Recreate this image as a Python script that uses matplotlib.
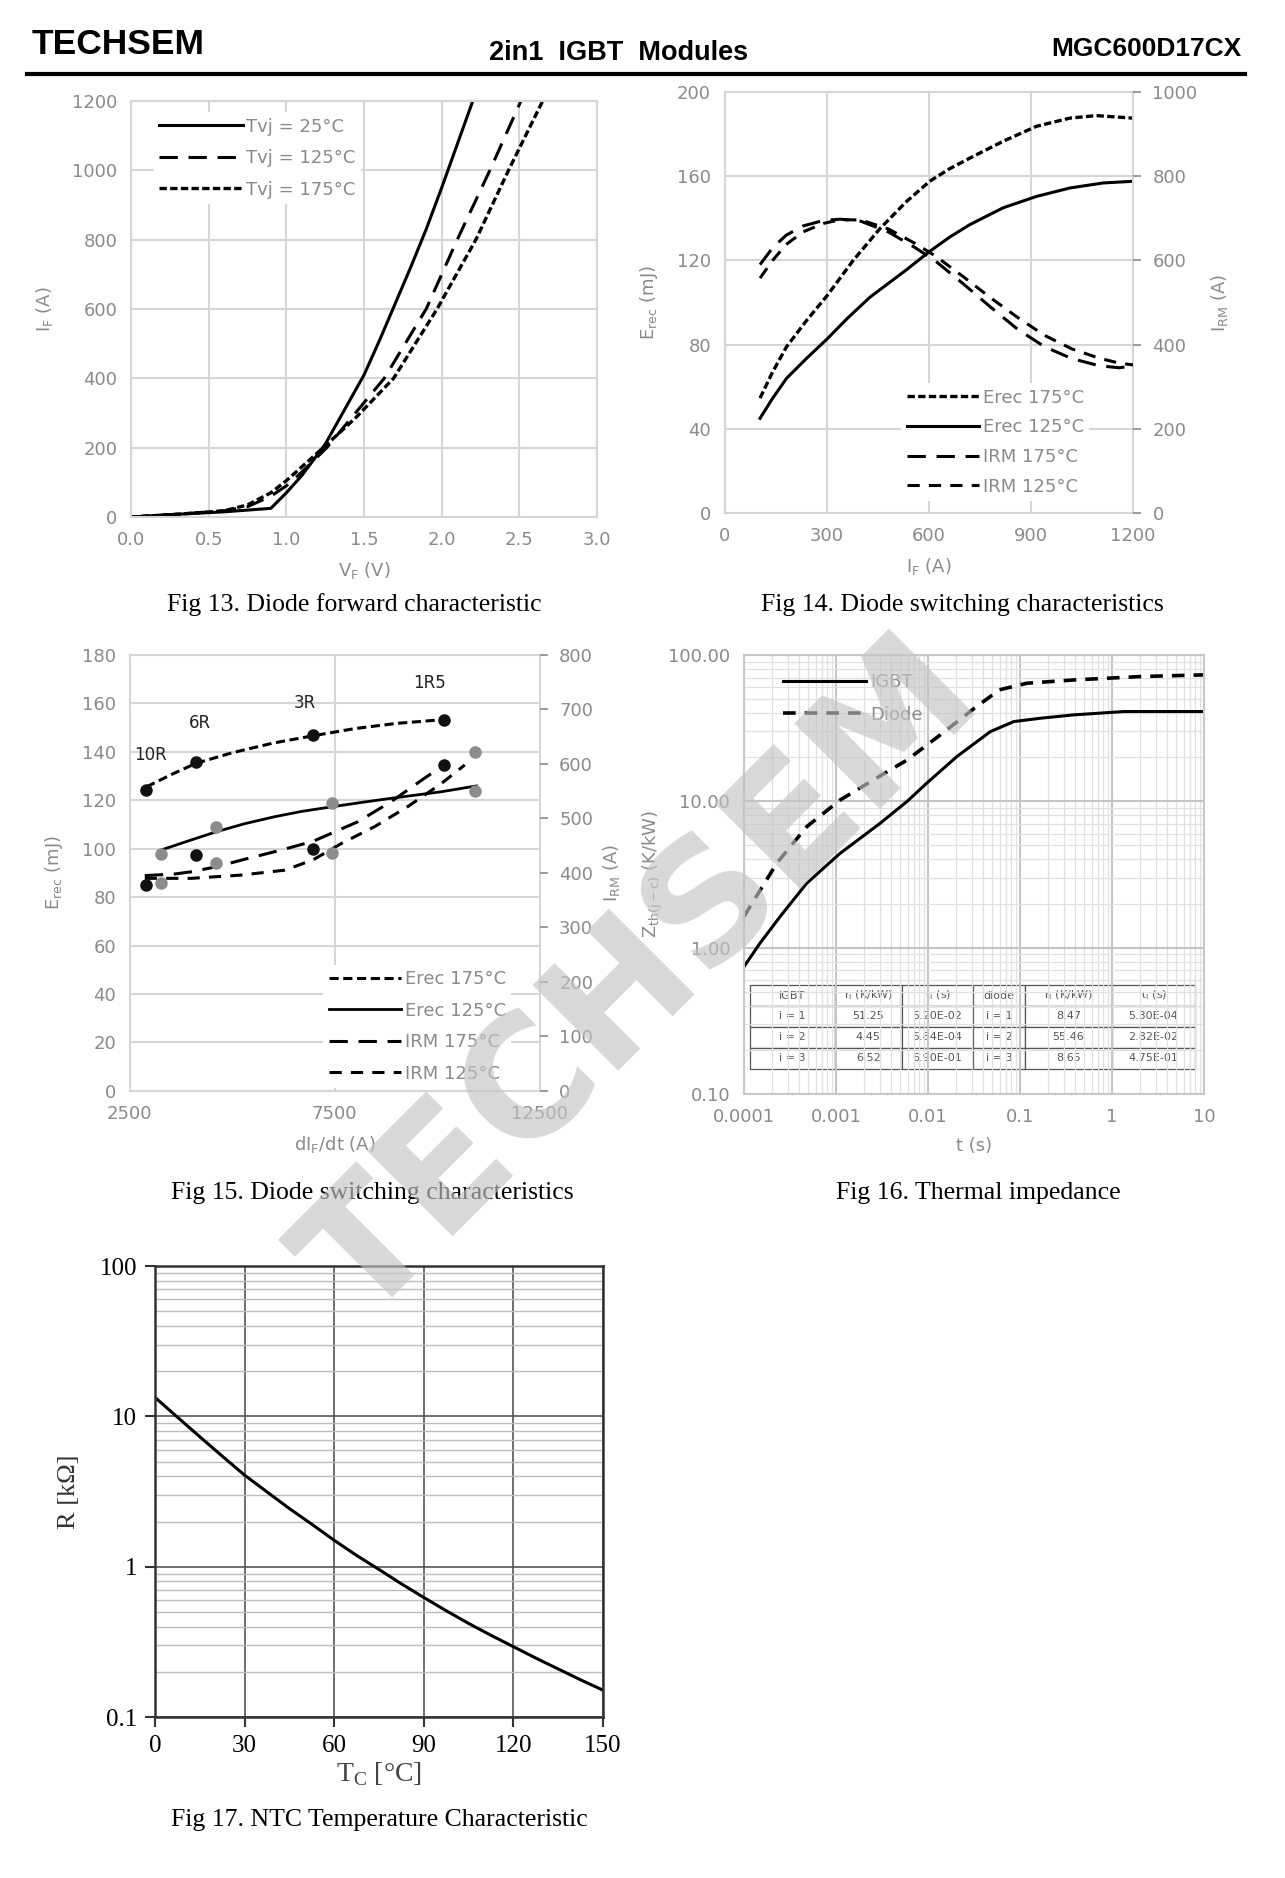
import matplotlib
matplotlib.use("Agg")
import matplotlib.pyplot as plt
from matplotlib.ticker import LogLocator, NullFormatter, FixedLocator, FixedFormatter

# Fig 13 - diode forward characteristic
vf_25 = [0.0, 0.3, 0.6, 0.9, 1.0, 1.1, 1.25, 1.4, 1.5, 1.6, 1.7, 1.8, 1.9, 2.0, 2.1, 2.2]
if_25 = [0, 8, 15, 25, 70, 120, 210, 330, 410, 510, 615, 720, 830, 950, 1075, 1200]
vf_125 = [0.0, 0.3, 0.6, 0.75, 0.9, 1.0, 1.1, 1.26, 1.4, 1.63, 1.75, 1.9, 2.1, 2.31, 2.51]
if_125 = [0, 8, 18, 30, 60, 90, 130, 200, 276, 400, 489, 600, 800, 1000, 1200]
vf_175 = [0.0, 0.3, 0.6, 0.75, 0.9, 1.0, 1.1, 1.25, 1.45, 1.69, 1.97, 2.22, 2.43, 2.65]
if_175 = [0, 8, 18, 35, 70, 105, 145, 205, 288, 400, 600, 800, 1000, 1200]

# Fig 14 - switching vs current
ic_erec = [103, 140, 181, 240, 299, 377, 455, 534, 602, 660, 720, 818, 916, 1014, 1092, 1200]
erec175_ic = [54.6, 67, 79, 91.5, 103, 120, 135, 148, 157.6, 163.5, 168.6, 176.6, 183.7, 187.6, 188.8, 187.6]
ic_erec125 = [103, 140, 181, 240, 299, 360, 426, 534, 602, 660, 720, 818, 916, 1014, 1112, 1200]
erec125_ic = [45, 54.5, 64, 73.5, 82.5, 92.5, 102.5, 115.6, 124.3, 131, 137, 145, 150.4, 154.4, 156.8, 157.6]
ic_irm = [103, 140, 180, 230, 290, 340, 400, 480, 560, 620, 700, 780, 860, 940, 1020, 1100, 1160, 1200]
irm175_ic = [590, 630, 660, 682, 695, 698, 693, 668, 630, 598, 545, 490, 437, 395, 367, 350, 345, 350]
irm125_ic = [558, 600, 638, 668, 688, 697, 696, 675, 640, 610, 562, 512, 465, 422, 390, 368, 356, 352]

# Fig 15 - switching vs dIF/dt
di_pts175 = [2907, 4110, 6972, 10167]
erec175_pts = [124.2, 135.9, 146.9, 153.1]
irm175_pts = [378, 432, 444, 598]
di_pts125 = [3256, 4614, 7435, 10915]
erec125_pts = [97.7, 109, 118.7, 123.9]
irm125_pts = [381, 418, 436, 621]
di_erec175 = [2907, 3500, 4110, 5000, 6000, 6972, 8000, 9000, 10167]
erec175_fit = [125.5, 130.5, 135.2, 139.6, 143.6, 146.6, 149.6, 151.7, 153.3]
di_erec125 = [3256, 4000, 4614, 5300, 6037, 6700, 7435, 8200, 8882, 10102, 10955]
erec125_fit = [99.4, 103.6, 107, 110.3, 113.2, 115.4, 117.3, 119.2, 120.8, 123.5, 125.9]
di_irm175 = [2866, 3598, 4000, 4655, 5300, 6200, 6972, 8069, 8882, 9695, 10167]
irm175_fit = [395, 398, 402, 412, 425, 442, 458, 494, 531, 574, 598]
di_irm125 = [2866, 4000, 5220, 6280, 6972, 7663, 8476, 9289, 10102, 10671]
irm125_fit = [390, 390, 396, 405, 424, 454, 485, 522, 564, 598]
rg_labels = ["10R", "6R", "3R", "1R5"]
rg_x = [3000, 4207, 6768, 9817]
rg_y = [138.7, 151.7, 160.2, 168.2]

# Fig 16 - thermal impedance
t_igbt = [1e-4, 1.49e-4, 2.47e-4, 4.8e-4, 1.11e-3, 3.02e-3, 5.9e-3, 9.7e-3, 0.0206, 0.0476, 0.0855, 0.1667, 0.385, 1.35, 10]
z_igbt = [0.741, 1.07, 1.63, 2.75, 4.41, 7.07, 9.95, 13.3, 20.2, 29.9, 35.0, 36.9, 38.9, 41.0, 41.0]
t_diode = [1e-4, 2.27e-4, 4.8e-4, 1.11e-3, 2.56e-3, 5.9e-3, 0.0136, 0.0319, 0.0597, 0.119, 0.385, 2.04, 10]
z_diode = [1.63, 3.77, 6.7, 10.2, 14.0, 19.1, 28.4, 43.2, 57.7, 64.0, 67.4, 71.1, 73.0]
table_header = ["IGBT", "r$_\\mathregular{i}$ (K/kW)", "τ$_\\mathregular{i}$ (s)", "diode",
                "r$_\\mathregular{i}$ (K/kW)", "τ$_\\mathregular{i}$ (s)"]
table_rows = [
    ["i = 1", "51.25", "5.20E-02", "i = 1", "8.47", "5.30E-04"],
    ["i = 2", "4.45", "5.84E-04", "i = 2", "55.46", "2.82E-02"],
    ["i = 3", "6.52", "6.90E-01", "i = 3", "8.65", "4.75E-01"],
]

# Fig 17 - NTC
tc = [0, 7.5, 15, 22.5, 30, 37.5, 45, 52.5, 60, 67.5, 75, 82.5, 90, 97.5, 105, 112.5, 120, 127.5, 135, 142.5, 150]
r_ntc = [13.4, 9.9, 7.33, 5.45, 4.07, 3.15, 2.44, 1.92, 1.50, 1.19, 0.96, 0.77, 0.625, 0.51, 0.42,
         0.35, 0.294, 0.247, 0.209, 0.177, 0.151]

plt.rcParams["font.family"] = ["DejaVu Sans"]
plt.rcParams["mathtext.fontset"] = "dejavusans"

TXT = "#8a8a8a"
GRID = "#d6d6d6"
SERIF = ["Liberation Serif", "DejaVu Serif"]
NARROW = ["Liberation Sans Narrow", "Liberation Sans", "DejaVu Sans"]
TS = 13

SHORT = (0, (2.2, 1.0))
LONG = (0, (6, 3.5))
MED = (0, (4, 3))

fig = plt.figure(figsize=(12.85, 18.78), dpi=100)


def sheet_axes(ax):
    for s in ax.spines.values():
        s.set_color(GRID)
        s.set_linewidth(1.5)
    ax.tick_params(colors=TXT, labelsize=TS, length=0, pad=10)
    ax.grid(True, color=GRID, lw=1.5)
    ax.set_axisbelow(True)


def sheet_legend(ax, handles, labels, loc_xy, spacing, hl=4.5):
    return ax.legend(handles, labels, loc="upper left", bbox_to_anchor=loc_xy, fontsize=TS,
                     labelcolor=TXT, handlelength=hl, handletextpad=0.2,
                     labelspacing=spacing, frameon=True, facecolor="white",
                     edgecolor="none", framealpha=1, borderpad=0.3)


# header
fig.text(0.025, 0.9765, "TECHSEM", family=NARROW, weight="bold", fontsize=25.5, va="center")
fig.text(0.481, 0.972, "2in1  IGBT  Modules", family=NARROW, weight="bold", fontsize=19.5, ha="center", va="center")
fig.text(0.966, 0.974, "MGC600D17CX", family=NARROW, weight="bold", fontsize=19, ha="right", va="center")
fig.add_artist(plt.Line2D([0.021, 0.969], [0.9605, 0.9605], color="black", lw=3))

# ---- Fig 13
ax1 = fig.add_axes([0.102, 0.7247, 0.3626, 0.2215])
sheet_axes(ax1)
ax1.plot(vf_25, if_25, color="black", lw=2.2, label="Tvj = 25°C")
ax1.plot(vf_125, if_125, color="black", lw=2.2, ls=LONG, label="Tvj = 125°C")
ax1.plot(vf_175, if_175, color="black", lw=2.4, ls=SHORT, label="Tvj = 175°C")
ax1.set_xlim(0, 3)
ax1.set_ylim(0, 1200)
ax1.set_xticks([0, 0.5, 1.0, 1.5, 2.0, 2.5, 3.0])
ax1.set_xticklabels(["0.0", "0.5", "1.0", "1.5", "2.0", "2.5", "3.0"])
ax1.set_yticks(range(0, 1201, 200))
ax1.set_xlabel("V$_\\mathregular{F}$ (V)", color=TXT, fontsize=TS, labelpad=8)
ax1.set_ylabel("I$_\\mathregular{F}$ (A)", color=TXT, fontsize=TS, labelpad=12)
h, lab = ax1.get_legend_handles_labels()
sheet_legend(ax1, h, lab, (0.03, 0.995), 0.75, hl=4.6)
fig.text(0.276, 0.678, "Fig 13. Diode forward characteristic", family=SERIF, fontsize=18.5, ha="center", va="center")

# ---- Fig 14
ax2 = fig.add_axes([0.5642, 0.7268, 0.3175, 0.2242])
sheet_axes(ax2)
ax2r = ax2.twinx()
for s in ax2r.spines.values():
    s.set_visible(False)
ax2r.tick_params(colors=TXT, labelsize=TS, length=6, width=1.2, pad=8, right=True)
ax2.plot(ic_erec, erec175_ic, color="black", lw=2.4, ls=SHORT, label="Erec 175°C")
ax2.plot(ic_erec125, erec125_ic, color="black", lw=2.2, label="Erec 125°C")
l3, = ax2r.plot(ic_irm, irm175_ic, color="black", lw=2.2, ls=LONG, label="IRM 175°C")
l4, = ax2r.plot(ic_irm, irm125_ic, color="black", lw=2.2, ls=MED, label="IRM 125°C")
ax2.set_xlim(0, 1200)
ax2.set_ylim(0, 200)
ax2r.set_ylim(0, 1000)
ax2.set_xticks(range(0, 1201, 300))
ax2.set_yticks(range(0, 201, 40))
ax2r.set_yticks(range(0, 1001, 200))
ax2.set_xlabel("I$_\\mathregular{F}$ (A)", color=TXT, fontsize=TS, labelpad=8)
ax2.set_ylabel("E$_\\mathregular{rec}$ (mJ)", color=TXT, fontsize=TS, labelpad=12)
ax2r.set_ylabel("I$_\\mathregular{RM}$ (A)", color=TXT, fontsize=TS, labelpad=8)
h, lab = ax2.get_legend_handles_labels()
sheet_legend(ax2r, h + [l3, l4], lab + ["IRM 175°C", "IRM 125°C"], (0.41, 0.33), 0.65, hl=4.0)
fig.text(0.749, 0.678, "Fig 14. Diode switching characteristics", family=SERIF, fontsize=18.5, ha="center", va="center")

# ---- Fig 15
ax3 = fig.add_axes([0.101, 0.4191, 0.319, 0.2322])
sheet_axes(ax3)
ax3.grid(False)
ax3.yaxis.grid(True, color=GRID, lw=1.5)
ax3.axvline(7500, color=GRID, lw=1.5, zorder=0)
ax3r = ax3.twinx()
for s in ax3r.spines.values():
    s.set_visible(False)
ax3r.tick_params(colors=TXT, labelsize=TS, length=6, width=1.2, pad=8)
ax3.plot(di_erec175, erec175_fit, color="black", lw=2.2, ls=(0, (3, 1.5)), label="Erec 175°C")
ax3.plot(di_erec125, erec125_fit, color="black", lw=2.0, label="Erec 125°C")
m3, = ax3r.plot(di_irm175, irm175_fit, color="black", lw=2.2, ls=LONG, label="IRM 175°C")
m4, = ax3r.plot(di_irm125, irm125_fit, color="black", lw=2.2, ls=MED, label="IRM 125°C")
ax3.plot(di_pts175, erec175_pts, "o", color="#111111", ms=8)
ax3.plot(di_pts125, erec125_pts, "o", color="#8c8c8c", ms=8)
ax3r.plot(di_pts175, irm175_pts, "o", color="#111111", ms=8)
ax3r.plot(di_pts125, irm125_pts, "o", color="#8c8c8c", ms=8)
for lbl, x, y in zip(rg_labels, rg_x, rg_y):
    ax3.text(x, y, lbl, fontsize=12, color="#222222", ha="center", va="center")
ax3.set_xlim(2500, 12500)
ax3.set_ylim(0, 180)
ax3r.set_ylim(0, 800)
ax3.set_xticks([2500, 7500, 12500])
ax3.set_yticks(range(0, 181, 20))
ax3r.set_yticks(range(0, 801, 100))
ax3.set_xlabel("dI$_\\mathregular{F}$/dt (A)", color=TXT, fontsize=TS, labelpad=8)
ax3.set_ylabel("E$_\\mathregular{rec}$ (mJ)", color=TXT, fontsize=TS, labelpad=12)
ax3r.set_ylabel("I$_\\mathregular{RM}$ (A)", color=TXT, fontsize=TS, labelpad=6)
h, lab = ax3.get_legend_handles_labels()
sheet_legend(ax3r, h[:2] + [m3, m4], lab[:2] + ["IRM 175°C", "IRM 125°C"], (0.45, 0.31), 0.75, hl=4.0)
fig.text(0.290, 0.365, "Fig 15. Diode switching characteristics", family=SERIF, fontsize=18.5, ha="center", va="center")

# ---- Fig 16
ax4 = fig.add_axes([0.579, 0.4175, 0.358, 0.2338])
ax4.set_xscale("log")
ax4.set_yscale("log")
for s in ax4.spines.values():
    s.set_color("#c8c8c8")
    s.set_linewidth(1.5)
ax4.tick_params(which="both", colors=TXT, labelsize=TS, length=0, pad=10)
ax4.grid(True, which="major", color="#c4c4c4", lw=1.5)
ax4.grid(True, which="minor", color="#e0e0e0", lw=0.9)
ax4.set_axisbelow(True)
ax4.plot(t_igbt, z_igbt, color="black", lw=2.2, label="IGBT")
ax4.plot(t_diode, z_diode, color="black", lw=2.6, ls=(0, (3.5, 2.5)), label="Diode")
ax4.set_xlim(1e-4, 10)
ax4.set_ylim(0.1, 100)
ax4.xaxis.set_major_locator(FixedLocator([1e-4, 1e-3, 1e-2, 1e-1, 1, 10]))
ax4.xaxis.set_major_formatter(FixedFormatter(["0.0001", "0.001", "0.01", "0.1", "1", "10"]))
ax4.yaxis.set_major_locator(FixedLocator([0.1, 1, 10, 100]))
ax4.yaxis.set_major_formatter(FixedFormatter(["0.10", "1.00", "10.00", "100.00"]))
ax4.xaxis.set_minor_locator(LogLocator(base=10, subs=range(2, 10)))
ax4.yaxis.set_minor_locator(LogLocator(base=10, subs=range(2, 10)))
ax4.xaxis.set_minor_formatter(NullFormatter())
ax4.yaxis.set_minor_formatter(NullFormatter())
ax4.set_xlabel("t (s)", color=TXT, fontsize=TS, labelpad=8)
ax4.set_ylabel("Z$_\\mathregular{th(j-c)}$ (K/kW)", color=TXT, fontsize=TS, labelpad=2)
ax4.legend(loc="upper left", bbox_to_anchor=(0.05, 0.995), fontsize=TS, labelcolor=TXT,
           handlelength=4.6, handletextpad=0.2, labelspacing=0.8, frameon=False)
tbl = ax4.table(cellText=table_rows, colLabels=table_header, cellLoc="center",
                bbox=[0.013, 0.057, 0.967, 0.191],
                colWidths=[0.191, 0.150, 0.161, 0.116, 0.195, 0.187])
tbl.auto_set_font_size(False)
tbl.set_fontsize(8)
for (r, c), cell in tbl.get_celld().items():
    cell.set_edgecolor("#555555")
    cell.set_linewidth(0.9)
    cell.set_facecolor("white")
    cell.get_text().set_color("#555555")
fig.text(0.761, 0.365, "Fig 16. Thermal impedance", family=SERIF, fontsize=18.5, ha="center", va="center")

# ---- Fig 17
ax5 = fig.add_axes([0.1206, 0.0857, 0.3486, 0.2401])
ax5.set_yscale("log")
ax5.plot(tc, r_ntc, color="black", lw=2.2)
ax5.set_xlim(0, 150)
ax5.set_ylim(0.1, 100)
ax5.set_xticks(range(0, 151, 30))
ax5.yaxis.set_major_locator(FixedLocator([0.1, 1, 10, 100]))
ax5.yaxis.set_major_formatter(FixedFormatter(["0.1", "1", "10", "100"]))
ax5.yaxis.set_minor_locator(LogLocator(base=10, subs=range(2, 10)))
ax5.yaxis.set_minor_formatter(NullFormatter())
ax5.grid(True, which="major", color="#555555", lw=1.2)
ax5.grid(True, which="minor", axis="y", color="#bcbcbc", lw=1.0)
for s in ax5.spines.values():
    s.set_color("#333333")
    s.set_linewidth(1.8)
ax5.tick_params(which="major", length=7, width=1.5, color="#333333", labelsize=18, pad=6)
ax5.tick_params(which="minor", length=0)
for lab in ax5.get_xticklabels() + ax5.get_yticklabels():
    lab.set_family(SERIF)
ax5.set_xlabel("T$_\\mathregular{C}$ [°C]", family=SERIF, fontsize=20, color="#444444", labelpad=2)
ax5.set_ylabel("R [kΩ]", family=SERIF, fontsize=19, color="#333333", labelpad=14)
fig.text(0.295, 0.031, "Fig 17. NTC Temperature Characteristic", family=SERIF, fontsize=18.5, ha="center", va="center")

# watermark
fig.text(0.500, 0.477, "TECHSEM", fontsize=119, weight="bold", color="#c4c4c4", alpha=0.65,
         rotation=45, ha="center", va="center", rotation_mode="anchor", zorder=100)

fig.savefig("out.png", dpi=100)
